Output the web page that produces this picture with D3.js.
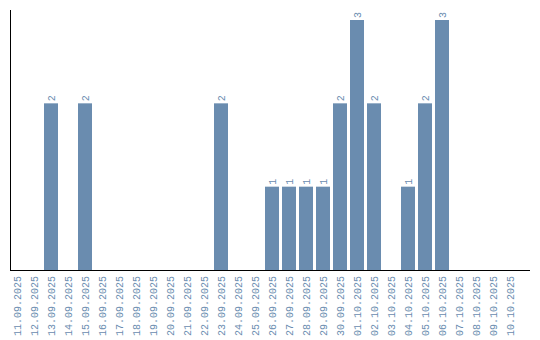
<!DOCTYPE html>
<html>
<head>
<meta charset="utf-8">
<script src="https://cdn.jsdelivr.net/npm/d3@7"></script>
<style>
  body { margin: 0; background: #fff; }
  text { font-family: "Liberation Mono", monospace; font-size: 10px; }
</style>
</head>
<body>
<div id="main"></div>
<script>
const dates = [
  "11.09.2025","12.09.2025","13.09.2025","14.09.2025","15.09.2025","16.09.2025",
  "17.09.2025","18.09.2025","19.09.2025","20.09.2025","21.09.2025","22.09.2025",
  "23.09.2025","24.09.2025","25.09.2025","26.09.2025","27.09.2025","28.09.2025",
  "29.09.2025","30.09.2025","01.10.2025","02.10.2025","03.10.2025","04.10.2025",
  "05.10.2025","06.10.2025","07.10.2025","08.10.2025","09.10.2025","10.10.2025"
];
const counts = [0,0,2,0,2,0, 0,0,0,0,0,0, 2,0,0,1,1,1, 1,2,3,2,0,1, 2,3,0,0,0,0];

const ctx = {
  w: 540,
  h: 340,
  left: 10,
  top: 20,
  bottom: 270,
  STEP: 17,
  GAP: 3,
  COLOR: "#6a8caf",
};

const data = dates.map((d, i) => ({date: d, value: counts[i]}));

const svg = d3.select("#main").append("svg")
  .attr("width", ctx.w)
  .attr("height", ctx.h);

const x = d3.scaleBand()
  .domain(dates)
  .range([ctx.left, ctx.left + ctx.STEP * dates.length])
  .padding(0);

const y = d3.scaleLinear()
  .domain([0, d3.max(counts)])
  .range([ctx.bottom, ctx.top]);

const barW = x.bandwidth() - ctx.GAP;

// bars
svg.append("g").selectAll("rect")
  .data(data.filter(d => d.value > 0))
  .enter()
  .append("rect")
  .attr("x", d => x(d.date))
  .attr("y", d => y(d.value))
  .attr("width", barW)
  .attr("height", d => y(0) - y(d.value))
  .attr("fill", ctx.COLOR);

// value labels
svg.append("g").selectAll("text")
  .data(data.filter(d => d.value > 0))
  .enter()
  .append("text")
  .attr("transform", d => "translate(" + (x(d.date) + barW / 2) + "," + (y(d.value) - 2) + ") rotate(-90)")
  .attr("dy", "0.35em")
  .attr("fill", ctx.COLOR)
  .text(d => d.value);

// axes lines
svg.append("line")
  .attr("x1", ctx.left + 0.5).attr("x2", ctx.left + 0.5)
  .attr("y1", 10).attr("y2", ctx.bottom)
  .attr("stroke", "black");
svg.append("line")
  .attr("x1", ctx.left).attr("x2", 530)
  .attr("y1", ctx.bottom + 0.5).attr("y2", ctx.bottom + 0.5)
  .attr("stroke", "black");

// tick labels
svg.append("g").selectAll("text")
  .data(dates)
  .enter()
  .append("text")
  .attr("transform", d => "translate(" + (x(d) + barW / 2) + "," + (ctx.bottom + 6) + ") rotate(-90)")
  .attr("text-anchor", "end")
  .attr("dy", "0.35em")
  .attr("fill", ctx.COLOR)
  .text(d => d);
</script>
</body>
</html>
